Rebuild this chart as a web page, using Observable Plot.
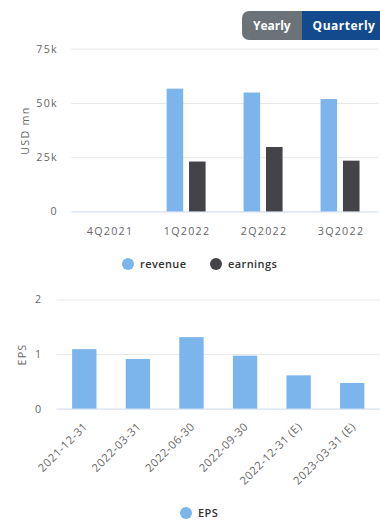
<!DOCTYPE html>
<html>
<head>
<meta charset="utf-8">
<script src="https://cdn.jsdelivr.net/npm/d3@7"></script>
<script src="https://cdn.jsdelivr.net/npm/@observablehq/plot@0.6"></script>
<style>
  html, body { margin: 0; padding: 0; background: #fff; }
  body { width: 380px; height: 520px; overflow: hidden; position: relative; font-family: "Open Sans", sans-serif; }
  .abs { position: absolute; }
  #chart1 { left: 0; top: 0; width: 380px; overflow: hidden; }
  #chart2 { left: 0; top: 280px; width: 380px; overflow: hidden; }
  .btns { left: 242px; top: 11px; height: 29px; display: flex; border-radius: 7px; overflow: hidden; width: 150px; }
  .btn { color: #fff; font-weight: 700; font-size: 12px; line-height: 29px; }
  .btn.y { background: #6b7379; width: 60px; text-align: center; }
  .btn.q { background: #134a8e; width: 80px; padding-left: 11px; letter-spacing: 0.5px; }
  .leg { font-size: 11px; font-weight: 600; color: #333; display: flex; align-items: center; white-space: nowrap; line-height: 12px; letter-spacing: 0.4px; }
  .dot { width: 12px; height: 12px; border-radius: 50%; display: inline-block; margin-right: 6px; }
  svg text { letter-spacing: 1.3px; }
  #chart2 g[aria-label="x-axis tick label"] text { letter-spacing: 0.6px; font-size: 11.5px; }
</style>
</head>
<body>
<div id="chart1" class="abs"></div>
<div class="abs btns"><div class="btn y">Yearly</div><div class="btn q">Quarterly</div></div>
<div id="legend1"></div>
<div id="chart2" class="abs"></div>
<div id="legend2"></div>
<script>
const quarters = ["4Q2021", "1Q2022", "2Q2022", "3Q2022"];
const seriesNames = ["revenue", "earnings"];
const revenue = [null, 56600, 54800, 51800];
const earnings = [null, 23000, 29700, 23400];
const yTicks1 = [0, 25000, 50000, 75000];

const dates = ["2021-12-31", "2022-03-31", "2022-06-30", "2022-09-30", "2022-12-31 (E)", "2023-03-31 (E)"];
const eps = [1.09, 0.91, 1.31, 0.97, 0.61, 0.47];
const yTicks2 = [0, 1, 2];

const colors = ["#7cb5ec", "#434348"];

const rows1 = [];
quarters.forEach((q, i) => {
  rows1.push({quarter: q, series: "revenue", value: revenue[i]});
  rows1.push({quarter: q, series: "earnings", value: earnings[i]});
});
const rows2 = dates.map((d, i) => ({date: d, eps: eps[i]}));

const fontStyle = {fontFamily: "Open Sans, sans-serif", fontSize: "11px", color: "#666", overflow: "visible"};

const chart1 = Plot.plot({
  width: 390, height: 245,
  marginLeft: 72, marginRight: 0, marginTop: 50, marginBottom: 28,
  style: fontStyle,
  fx: {domain: quarters, padding: 0, label: null, axis: "bottom", tickSize: 0, tickPadding: 16},
  x: {domain: seriesNames, paddingInner: 0.25, paddingOuter: 0.78, axis: null},
  y: {domain: [0, 75000], ticks: yTicks1, tickFormat: d => d === 0 ? "0" : (d / 1000) + "k",
      tickSize: 0, tickPadding: 14, label: "USD mn", labelArrow: "none", labelAnchor: "center", labelOffset: 52},
  color: {domain: seriesNames, range: colors},
  marks: [
    Plot.gridY(yTicks1.slice(1), {stroke: "#e6e6e6", strokeOpacity: 1}),
    Plot.ruleY([0], {stroke: "#ccd6eb"}),
    Plot.barY(rows1, {fx: "quarter", x: "series", y: "value", fill: "series"})
  ]
});
document.getElementById("chart1").appendChild(chart1);

const chart2 = Plot.plot({
  width: 390, height: 225,
  marginLeft: 58, marginRight: 0, marginTop: 20, marginBottom: 93,
  style: fontStyle,
  x: {domain: dates, paddingInner: 0.55, paddingOuter: 0.275, axis: null},
  y: {domain: [0, 2], ticks: yTicks2, tickFormat: d => String(d), tickSize: 0, tickPadding: 15,
      label: "EPS", labelArrow: "none", labelAnchor: "center", labelOffset: 40},
  marks: [
    Plot.gridY(yTicks2.slice(1), {stroke: "#e6e6e6", strokeOpacity: 1}),
    Plot.ruleY([0], {stroke: "#ccd6eb"}),
    Plot.barY(rows2, {x: "date", y: "eps", fill: colors[0]}),
    Plot.axisX({tickRotate: -45, tickSize: 0, tickPadding: 6, label: null, dx: 1, dy: 10, fill: "#666"})
  ]
});
document.getElementById("chart2").appendChild(chart2);

function legendItem(parent, name, color, left, top) {
  const el = document.createElement("div");
  el.className = "abs leg";
  el.style.left = left + "px";
  el.style.top = top + "px";
  const dot = document.createElement("span");
  dot.className = "dot";
  dot.style.background = color;
  el.appendChild(dot);
  el.appendChild(document.createTextNode(name));
  parent.appendChild(el);
}
const l1 = document.getElementById("legend1");
legendItem(l1, seriesNames[0], colors[0], 122, 258);
legendItem(l1, seriesNames[1], colors[1], 210, 258);
const l2 = document.getElementById("legend2");
legendItem(l2, "EPS", colors[0], 180, 507);
</script>
</body>
</html>
